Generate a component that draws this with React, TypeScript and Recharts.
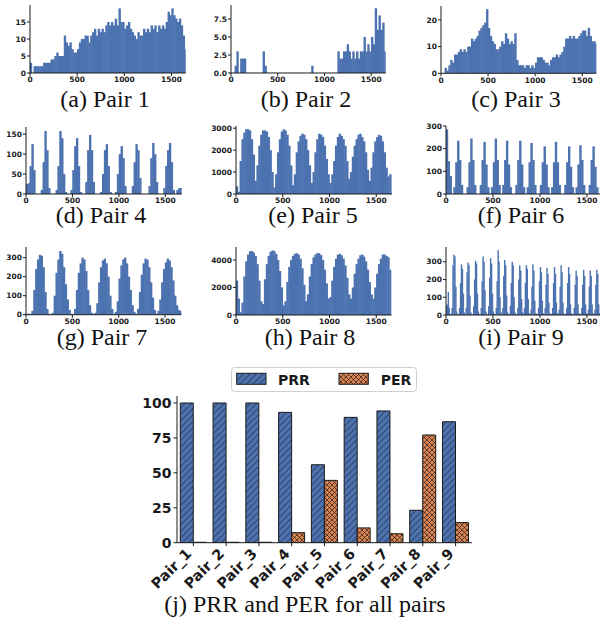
import React from 'react';
import { BarChart, Bar, XAxis, YAxis } from 'recharts';

// histogram counts per 20-unit bin starting at 0 (pair 9 uses 10-unit bins)
const pair1Counts = [
  3, 0, 2, 2, 2, 2, 2, 3, 3, 3,
  3, 4, 4, 5, 6, 5, 5, 5, 11, 9,
  8, 9, 7, 6, 6, 7, 9, 10, 10, 11,
  11, 9, 11, 12, 13, 11, 13, 12, 13, 12,
  14, 15, 14, 15, 14, 16, 14, 19, 15, 15,
  13, 14, 15, 13, 12, 11, 10, 12, 11, 11,
  13, 12, 13, 12, 14, 13, 14, 12, 14, 13,
  14, 13, 15, 18, 17, 19, 17, 16, 15, 16,
  14, 11, 7,
];
const pair2Counts = [
  0, 0, 1, 3, 0, 2, 2, 2, 0, 0,
  0, 0, 0, 0, 0, 0, 0, 3, 1, 0,
  0, 0, 0, 0, 0, 0, 0, 0, 0, 0,
  0, 0, 0, 0, 0, 0, 0, 0, 0, 0,
  0, 0, 0, 1, 0, 0, 0, 0, 0, 0,
  0, 0, 0, 0, 0, 0, 0, 3, 2, 2,
  3, 3, 4, 3, 2, 3, 2, 3, 2, 3,
  3, 5, 3, 4, 3, 5, 4, 9, 6, 8,
  6, 7, 3,
];
const pair3Counts = [
  0, 0, 2, 1, 3, 5, 4, 7, 7, 8,
  9, 8, 9, 8, 10, 10, 13, 12, 13, 14,
  16, 17, 18, 19, 24, 17, 14, 12, 11, 9,
  9, 10, 12, 11, 15, 13, 11, 12, 11, 15,
  5, 3, 3, 3, 2, 3, 3, 2, 3, 2,
  4, 6, 6, 6, 5, 4, 4, 3, 5, 6,
  6, 7, 6, 7, 8, 10, 13, 13, 14, 13,
  14, 13, 13, 14, 15, 16, 16, 14, 17, 14,
  12, 12, 11,
];
const pair4Counts = [
  25, 27, 70, 125, 60, 0, 0, 0, 10, 80,
  158, 110, 15, 0, 0, 0, 10, 70, 158, 140,
  50, 5, 0, 0, 10, 60, 120, 140, 70, 5,
  0, 0, 30, 110, 148, 110, 30, 0, 0, 0,
  5, 50, 110, 125, 70, 5, 0, 0, 5, 50,
  100, 120, 90, 20, 0, 0, 0, 20, 80, 125,
  110, 40, 0, 0, 0, 0, 20, 90, 128, 100,
  30, 0, 0, 0, 15, 70, 110, 128, 80, 10,
  0, 10, 15, 15,
];
const pair5Counts = [
  350, 100, 1500, 2500, 2800, 2950, 2950, 2900, 2500, 1800,
  600, 1300, 2200, 2700, 2900, 2900, 2850, 2600, 2000, 1000,
  300, 900, 1900, 2500, 2850, 2950, 2900, 2700, 2200, 1300,
  400, 900, 1900, 2400, 2650, 2750, 2700, 2500, 2000, 1300,
  500, 1000, 1900, 2500, 2750, 2700, 2600, 2200, 1600, 900,
  500, 900, 1500, 2200, 2600, 2750, 2650, 2500, 2200, 1500,
  700, 1000, 1700, 2200, 2500, 2700, 2750, 2600, 2400, 1900,
  1100, 600, 1200, 1900, 2400, 2600, 2700, 2650, 2400, 1900,
  1200, 800, 900,
];
const pair6Counts = [
  285, 145, 80, 0, 30, 140, 235, 150, 40, 0,
  0, 30, 140, 245, 150, 40, 0, 0, 40, 150,
  230, 130, 30, 0, 30, 140, 245, 150, 40, 0,
  40, 150, 235, 130, 30, 0, 0, 40, 150, 235,
  130, 30, 0, 30, 140, 225, 150, 40, 0, 0,
  40, 140, 210, 130, 30, 0, 30, 140, 230, 140,
  40, 0, 0, 40, 140, 210, 120, 30, 0, 30,
  130, 215, 150, 40, 0, 0, 40, 150, 210, 120,
  30, 0, 30,
];
const pair7Counts = [
  5, 5, 5, 20, 130, 240, 290, 315, 310, 250,
  120, 30, 5, 3, 10, 100, 220, 290, 335, 320,
  250, 160, 80, 25, 5, 3, 30, 130, 220, 270,
  300, 290, 230, 130, 50, 10, 3, 10, 60, 170,
  250, 285, 295, 270, 200, 100, 30, 5, 15, 70,
  190, 260, 290, 300, 270, 200, 130, 50, 15, 5,
  30, 120, 210, 270, 295, 290, 250, 170, 90, 25,
  5, 20, 80, 170, 240, 275, 295, 285, 250, 180,
  100, 50, 25, 20,
];
const pair8Counts = [
  2500, 1200, 200, 900, 2800, 3900, 4400, 4650, 4650, 4550,
  4300, 3700, 2500, 1000, 800, 2600, 3700, 4300, 4600, 4700,
  4650, 4450, 4000, 3200, 2000, 700, 1000, 2400, 3500, 4000,
  4300, 4450, 4500, 4400, 4100, 3400, 2200, 1000, 1500, 2800,
  3700, 4200, 4400, 4500, 4500, 4350, 4000, 3300, 2300, 1200,
  1300, 2500, 3500, 4100, 4400, 4450, 4350, 4100, 3600, 2700,
  1500, 1200, 2000, 3000, 3700, 4100, 4350, 4400, 4250, 3900,
  3300, 2400, 1500, 1200, 2000, 3000, 3700, 4100, 4400, 4400,
  4300, 4200, 3300,
];
const pair9Counts = [
  50, 60, 130, 40, 5, 5, 40, 280, 340, 330,
  160, 20, 5, 5, 40, 180, 285, 260, 120, 15,
  5, 40, 240, 295, 280, 110, 15, 5, 5, 50,
  200, 305, 290, 120, 20, 5, 5, 40, 190, 330,
  300, 140, 20, 5, 5, 50, 210, 320, 290, 120,
  20, 5, 5, 40, 190, 365, 300, 100, 15, 5,
  40, 220, 310, 280, 110, 15, 5, 5, 50, 180,
  300, 280, 100, 15, 5, 5, 40, 200, 280, 250,
  90, 15, 5, 40, 180, 280, 260, 90, 10, 5,
  30, 160, 285, 250, 80, 10, 5, 5, 40, 190,
  270, 240, 80, 10, 5, 40, 170, 265, 230, 70,
  10, 5, 5, 40, 180, 270, 230, 70, 10, 5,
  30, 160, 280, 240, 70, 10, 5, 5, 40, 180,
  270, 230, 60, 10, 5, 5, 40, 170, 250, 220,
  60, 10, 5, 5, 40, 170, 255, 220, 60, 10,
  5, 30, 160, 250, 220, 60, 10, 5, 30, 170,
  255, 230, 60, 10, 5, 5,
];

const xTicks = [0, 500, 1000, 1500];

// summary chart
const pairNames = ['Pair_1', 'Pair_2', 'Pair_3', 'Pair_4', 'Pair_5', 'Pair_6', 'Pair_7', 'Pair_8', 'Pair_9'];
const prrValues = [100, 100, 100, 93.3, 55.8, 89.7, 94.3, 23.2, 86.6];
const perValues = [0.3, 0.3, 0.3, 7.2, 44.6, 10.6, 6.4, 77.1, 14.4];
const summaryTicks = [0, 25, 50, 75, 100];

const BLUE = '#4C72B0';
const ORANGE = '#DD8452';
const INK = '#1a1a1a';

type HistCfg = {
  caption: string;
  counts: number[];
  bin: number;
  left: number;
  top: number;
  w: number;
  h: number;
  xMax: number;
  yMax: number;
  yTicks: number[];
  decimals?: number;
  capX: number;
  capY: number;
};

const histograms: HistCfg[] = [
  { caption: '(a) Pair 1', counts: pair1Counts, bin: 20, left: 30.3, top: 5, w: 155.7, h: 68, xMax: 1650, yMax: 20, yTicks: [0, 5, 10, 15], capX: 105, capY: 107 },
  { caption: '(b) Pair 2', counts: pair2Counts, bin: 20, left: 231.3, top: 5, w: 154.7, h: 68, xMax: 1655, yMax: 9.45, yTicks: [0, 2.5, 5, 7.5], decimals: 1, capX: 306, capY: 107 },
  { caption: '(c) Pair 3', counts: pair3Counts, bin: 20, left: 441.3, top: 5.7, w: 155.4, h: 67.3, xMax: 1650, yMax: 25.2, yTicks: [0, 10, 20], capX: 516, capY: 107 },
  { caption: '(d) Pair 4', counts: pair4Counts, bin: 20, left: 26.3, top: 127, w: 155.7, h: 67, xMax: 1676, yMax: 168, yTicks: [0, 50, 100, 150], capX: 101, capY: 223 },
  { caption: '(e) Pair 5', counts: pair5Counts, bin: 20, left: 235.7, top: 126.3, w: 156, h: 68, xMax: 1668, yMax: 3100, yTicks: [0, 1000, 2000, 3000], capX: 313, capY: 223 },
  { caption: '(f) Pair 6', counts: pair6Counts, bin: 20, left: 445.7, top: 126.3, w: 156, h: 68, xMax: 1660, yMax: 300, yTicks: [0, 100, 200, 300], capX: 521, capY: 223 },
  { caption: '(g) Pair 7', counts: pair7Counts, bin: 20, left: 25.7, top: 247.3, w: 155.3, h: 67.7, xMax: 1676, yMax: 356, yTicks: [0, 100, 200, 300], capX: 102, capY: 345 },
  { caption: '(h) Pair 8', counts: pair8Counts, bin: 20, left: 235.7, top: 247, w: 155.6, h: 68, xMax: 1664, yMax: 4950, yTicks: [0, 2000, 4000], capX: 310, capY: 345 },
  { caption: '(i) Pair 9', counts: pair9Counts, bin: 10, left: 445.7, top: 247, w: 156, h: 68, xMax: 1660, yMax: 383, yTicks: [0, 100, 200, 300], capX: 521, capY: 345 },
];

const Y_W = 26;
const X_H = 14;
const PAD_T = 6;
const PAD_R = 2;
const smallFont = { fontSize: 7.5, fontWeight: 700, fontFamily: 'DejaVu Sans', fill: INK };
const bigFont = { fontSize: 14, fontWeight: 700, fontFamily: 'DejaVu Sans', fill: INK };

// histogram bins drawn edge to edge: recharts truncates tiny bar widths, so
// redraw each bin centred on its band with the full bin width plus a hair
const makeBinShape = (binPx: number) => (props: any) => {
  const { x, y, width, height } = props;
  if (!height || height <= 0) return null;
  const cx = x + (width || 0) / 2;
  return <rect x={cx - binPx / 2 - 0.25} y={y} width={binPx + 0.5} height={height} fill={BLUE} />;
};

const SmallHist = ({ cfg }: { cfg: HistCfg }) => {
  const rows = cfg.counts.map((c, i) => ({ x: i * cfg.bin + cfg.bin / 2, count: c }));
  const binPx = (cfg.bin * cfg.w) / cfg.xMax;
  return (
    <div style={{ position: 'absolute', left: cfg.left - Y_W, top: cfg.top - PAD_T }}>
      <BarChart
        width={Y_W + cfg.w + PAD_R}
        height={PAD_T + cfg.h + X_H}
        data={rows}
        margin={{ top: PAD_T, right: PAD_R, bottom: 0, left: 0 }}
        barCategoryGap={0}
      >
        <XAxis
          dataKey="x"
          type="number"
          domain={[0, cfg.xMax]}
          allowDataOverflow
          ticks={xTicks}
          interval={0}
          height={X_H}
          tick={smallFont}
          tickSize={3}
          tickMargin={1}
          stroke={INK}
        />
        <XAxis xAxisId="top" orientation="top" type="number" domain={[0, cfg.xMax]} allowDataOverflow height={0} tick={false} tickLine={false} stroke={INK} />
        <YAxis
          type="number"
          domain={[0, cfg.yMax]}
          allowDataOverflow
          ticks={cfg.yTicks}
          interval={0}
          width={Y_W}
          tick={smallFont}
          tickSize={3}
          tickMargin={1}
          stroke={INK}
          tickFormatter={(v: number) => (cfg.decimals ? v.toFixed(cfg.decimals) : String(v))}
        />
        <YAxis yAxisId="right" orientation="right" domain={[0, 1]} width={0} tick={false} tickLine={false} stroke={INK} />
        <Bar dataKey="count" fill={BLUE} shape={makeBinShape(binPx)} isAnimationActive={false} />
      </BarChart>
    </div>
  );
};

const HatchDefs = ({ prefix }: { prefix: string }) => (
  <>
    <pattern id={`${prefix}-prr`} patternUnits="userSpaceOnUse" width={6.5} height={6.5}>
      <rect width={6.5} height={6.5} fill={BLUE} />
      <path d="M0,6.5 L6.5,0 M-1.5,1.5 L1.5,-1.5 M5,8 L8,5" stroke={INK} strokeWidth={0.7} />
    </pattern>
    <pattern id={`${prefix}-per`} patternUnits="userSpaceOnUse" width={5} height={5}>
      <rect width={5} height={5} fill={ORANGE} />
      <path d="M0,5 L5,0 M0,0 L5,5" stroke={INK} strokeWidth={0.7} />
    </pattern>
  </>
);

const PairTick = (props: any) => {
  const { x, y, payload } = props;
  const px = x - 4.6;
  const py = y + 3;
  return (
    <text
      x={px}
      y={py}
      transform={`rotate(-45 ${px} ${py})`}
      textAnchor="end"
      dominantBaseline="central"
      fontFamily="DejaVu Sans"
      fontWeight={700}
      fontSize={14.5}
      fill={INK}
    >
      {payload.value}
    </text>
  );
};

const B_LEFT = 176.7;
const B_TOP = 396;
const B_W = 295;
const B_H = 146.7;
const B_YW = 50;
const B_XH = 60;

const SummaryChart = () => {
  const rows = pairNames.map((name, i) => ({ name, PRR: prrValues[i], PER: perValues[i] }));
  return (
    <div style={{ position: 'absolute', left: B_LEFT - B_YW, top: B_TOP - PAD_T }}>
      <BarChart
        width={B_YW + B_W + PAD_R}
        height={PAD_T + B_H + B_XH}
        data={rows}
        margin={{ top: PAD_T, right: PAD_R, bottom: 0, left: 0 }}
        barGap={0}
        barCategoryGap="10%"
      >
        <defs>
          <HatchDefs prefix="c" />
        </defs>
        <XAxis
          dataKey="name"
          height={B_XH}
          interval={0}
          tick={(p: any) => <PairTick {...p} />}
          tickSize={3.5}
          tickMargin={2}
          stroke={INK}
        />
        <XAxis xAxisId="top" dataKey="name" orientation="top" height={0} tick={false} tickLine={false} stroke={INK} />
        <YAxis
          domain={[0, 105]}
          allowDataOverflow
          ticks={summaryTicks}
          interval={0}
          width={B_YW}
          tick={bigFont}
          tickSize={3.5}
          tickMargin={2}
          stroke={INK}
        />
        <YAxis yAxisId="right" orientation="right" domain={[0, 1]} width={0} tick={false} tickLine={false} stroke={INK} />
        <Bar dataKey="PRR" fill="url(#c-prr)" stroke={INK} strokeWidth={1} isAnimationActive={false} />
        <Bar dataKey="PER" fill="url(#c-per)" stroke={INK} strokeWidth={1} isAnimationActive={false} />
      </BarChart>
    </div>
  );
};

const legendItems = [
  { label: 'PRR', fill: 'url(#l-prr)', patchX: 5.7, textX: 47 },
  { label: 'PER', fill: 'url(#l-per)', patchX: 108, textX: 149.7 },
];

const SummaryLegend = () => (
  <svg width={187} height={26} style={{ position: 'absolute', left: 231, top: 367 }}>
    <defs>
      <HatchDefs prefix="l" />
    </defs>
    <rect x={0.5} y={0.5} width={185} height={24} rx={3} fill="#fff" stroke="#d0d0d0" />
    {legendItems.map((it) => (
      <g key={it.label}>
        <rect x={it.patchX} y={6.3} width={29.3} height={11} fill={it.fill} stroke={INK} strokeWidth={1} />
        <text x={it.textX} y={17.5} fontFamily="DejaVu Sans" fontWeight={700} fontSize={14} fill={INK}>
          {it.label}
        </text>
      </g>
    ))}
  </svg>
);

export default function App() {
  return (
    <div
      style={{
        position: 'fixed',
        left: 0,
        top: 0,
        width: 600,
        height: 626,
        overflow: 'hidden',
        background: '#fff',
      }}
    >
      {histograms.map((cfg) => (
        <SmallHist key={cfg.caption} cfg={cfg} />
      ))}
      <SummaryChart />
      <SummaryLegend />
      <svg width={600} height={626} style={{ position: 'absolute', left: 0, top: 0, pointerEvents: 'none' }}>
        {histograms.map((cfg) => (
          <text key={cfg.caption} x={cfg.capX} y={cfg.capY} textAnchor="middle" fontFamily="Liberation Serif" fontSize={24} fill="#111">
            {cfg.caption}
          </text>
        ))}
        <text x={305} y={612} textAnchor="middle" fontFamily="Liberation Serif" fontSize={24} fill="#111">
          (j) PRR and PER for all pairs
        </text>
      </svg>
    </div>
  );
}
